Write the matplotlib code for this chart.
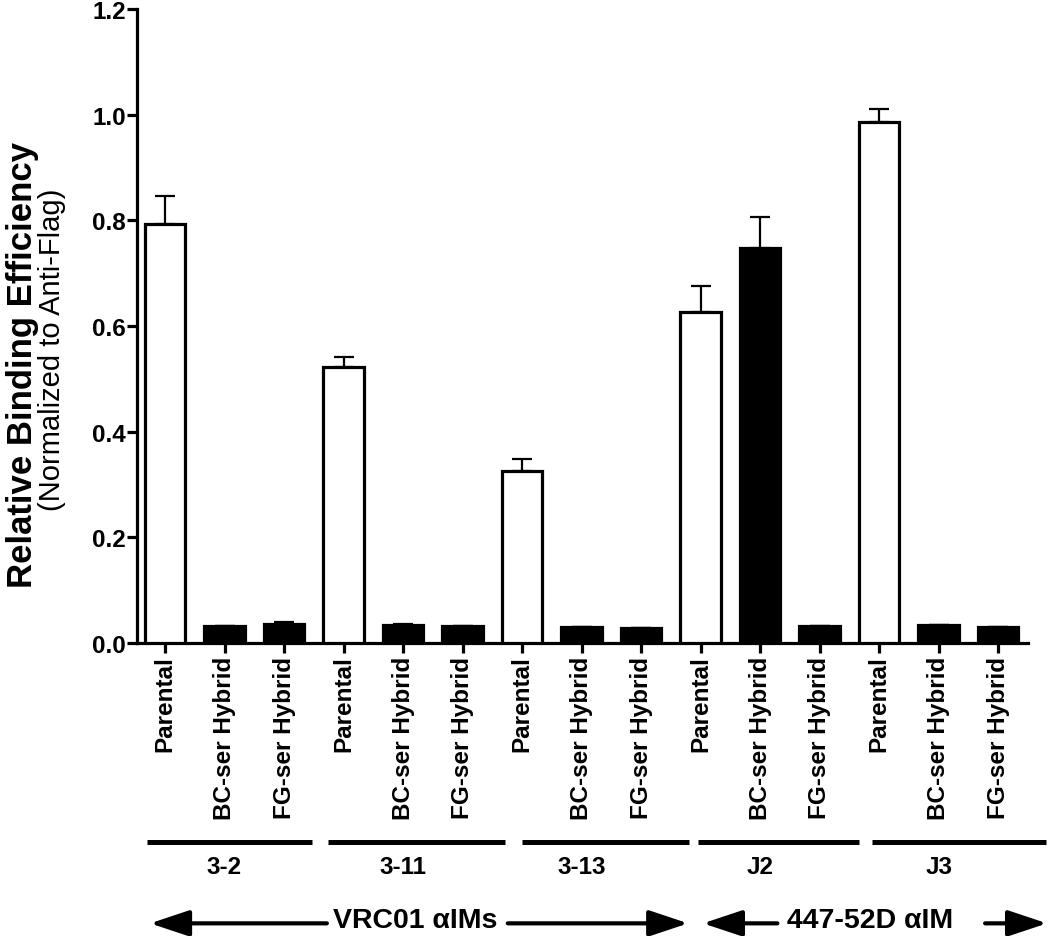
import matplotlib
matplotlib.use("Agg")
import matplotlib.pyplot as plt
import matplotlib.transforms as mtransforms
from matplotlib.patches import FancyArrowPatch, ArrowStyle

plt.rcParams['font.family'] = ['Liberation Sans', 'DejaVu Sans']

# ---------------- data ----------------
bar_labels = ["Parental", "BC-ser Hybrid", "FG-ser Hybrid"] * 5
values = [0.793, 0.032, 0.036,
          0.522, 0.034, 0.033,
          0.326, 0.030, 0.028,
          0.627, 0.748, 0.033,
          0.986, 0.034, 0.031]
errors = [0.053, 0.0, 0.004,
          0.020, 0.002, 0.0,
          0.022, 0.0, 0.0,
          0.048, 0.058, 0.0,
          0.024, 0.0, 0.0]
groups = ["3-2", "3-11", "3-13", "J2", "J3"]
group_spans = [(-0.30, 2.47), (2.74, 5.71), (6.00, 8.81), (8.96, 11.66), (11.88, 14.81)]
yticks = [0.0, 0.2, 0.4, 0.6, 0.8, 1.0, 1.2]

fig = plt.figure(figsize=(10.5, 9.37), dpi=100)
ax = fig.add_axes([0.1305, 0.3127, 0.979 - 0.1305, 0.9893 - 0.3127])

x = list(range(len(values)))
colors = ['white' if lab == "Parental" else 'black' for lab in bar_labels]
ax.bar(x, values, width=0.68, color=colors, edgecolor='black', linewidth=2.3, zorder=3)
ax.errorbar(x, values, yerr=[[0] * len(errors), errors], fmt='none', ecolor='black',
            elinewidth=1.6, capsize=7, capthick=1.6, zorder=2)

ax.set_xlim(-0.47, 14.5)
ax.set_ylim(0, 1.2)
ax.set_yticks(yticks)
ax.set_yticklabels([f"{t:.1f}" for t in yticks], fontsize=17.5, fontweight='bold')
ax.set_xticks(x)
ax.set_xticklabels(bar_labels, rotation=90, fontsize=17.5, fontweight='bold', va='top')
ax.tick_params(axis='both', direction='out', length=7, width=2.3, color='black')
ax.tick_params(axis='y', pad=1)
ax.tick_params(axis='x', pad=2)
for s in ['top', 'right']:
    ax.spines[s].set_visible(False)
for s in ['left', 'bottom']:
    ax.spines[s].set_linewidth(2.3)

# y-label (two lines)
fig.text(0.021, 0.6105, "Relative Binding Efficiency", rotation=90, ha='center', va='center',
         fontsize=25, fontweight='bold')
fig.text(0.050, 0.627, "(Normalized to Anti-Flag)", rotation=90, ha='center', va='center',
         fontsize=21)

# group lines and labels
trans = mtransforms.blended_transform_factory(ax.transData, fig.transFigure)
for (a, b), g, mid in zip(group_spans, groups, [1, 4, 7, 10, 13]):
    ax.plot([a, b], [0.1003, 0.1003], color='black', lw=3.6, transform=trans,
            clip_on=False, solid_capstyle='butt')
    ax.text(mid, 0.0747, g, transform=trans, ha='center', va='center',
            fontsize=17.5, fontweight='bold')

# arrows
arrow_y = 0.0135
style = ArrowStyle('-|>', head_length=24, head_width=8)
arrows = [(2.72, -0.25), (5.76, 8.79), (10.29, 9.04), (13.78, 14.82)]
for a, b in arrows:
    p = FancyArrowPatch((a, arrow_y), (b, arrow_y), transform=trans, arrowstyle=style,
                        mutation_scale=1, lw=3, color='black', shrinkA=0, shrinkB=0,
                        clip_on=False)
    ax.add_patch(p)
ax.text(4.2, arrow_y + 0.004, "VRC01 αIMs", transform=trans, ha='center', va='center',
        fontsize=20.5, fontweight='bold')
ax.text(11.85, arrow_y + 0.004, "447-52D αIM", transform=trans, ha='center', va='center',
        fontsize=20.5, fontweight='bold')

fig.savefig("out.png", dpi=100)
